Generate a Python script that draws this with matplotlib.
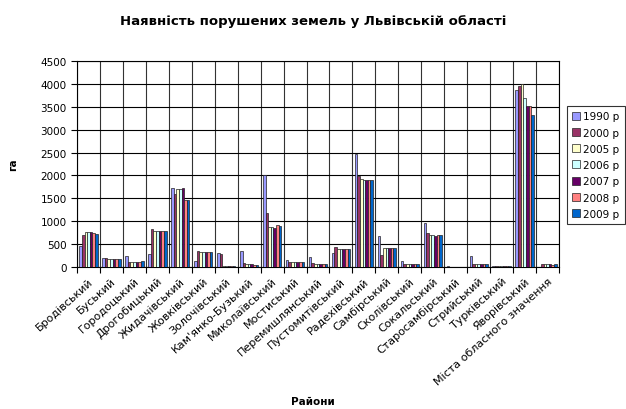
import numpy as np
import matplotlib
matplotlib.use("Agg")
import matplotlib.pyplot as plt
from matplotlib.transforms import ScaledTranslation

plt.rcParams['font.family'] = ['DejaVu Sans']

districts = ["Бродівський", "Буський", "Городоцький", "Дрогобицький", "Жидачівський",
             "Жовківський", "Золочівський", "Кам'янко-Бузький", "Миколаївський", "Мостиський",
             "Перемишлянський", "Пустомитівський", "Радехівський", "Самбірський", "Сколівський",
             "Сокальський", "Старосамбірський", "Стрийський", "Турківський", "Яворівський",
             "Міста обласного значення"]

years = ["1990 р", "2000 р", "2005 р", "2006 р", "2007 р", "2008 р", "2009 р"]
colors = ["#9999FF", "#993366", "#FFFFCC", "#CCFFFF", "#660066", "#FF8080", "#0066CC"]

y1990 = [460, 200, 250, 290, 1730, 130, 310, 350, 2000, 160, 230, 310, 2460, 680, 130, 960, 20, 240, 25, 3870, 0]
y2000 = [700, 195, 110, 830, 1600, 360, 290, 90, 1180, 120, 90, 450, 1980, 260, 60, 740, 5, 65, 20, 3950, 60]
y2005 = [770, 180, 110, 790, 1700, 330, 15, 60, 880, 120, 60, 400, 1930, 420, 65, 700, 5, 65, 25, 4000, 60]
y2006 = [770, 180, 110, 790, 1700, 330, 15, 60, 880, 120, 70, 400, 1910, 420, 65, 700, 5, 65, 25, 3680, 60]
y2007 = [770, 180, 110, 790, 1730, 330, 15, 60, 860, 120, 70, 400, 1910, 420, 65, 680, 5, 65, 25, 3520, 60]
y2008 = [750, 180, 110, 790, 1460, 330, 15, 45, 920, 120, 70, 400, 1910, 420, 65, 700, 5, 65, 25, 3520, 50]
y2009 = [730, 180, 130, 790, 1460, 330, 15, 45, 900, 120, 70, 400, 1910, 420, 65, 700, 5, 65, 25, 3330, 60]
series = [y1990, y2000, y2005, y2006, y2007, y2008, y2009]

fig = plt.figure(figsize=(6.26, 4.10), dpi=100)
ax = fig.add_axes([0.123, 0.346, 0.770, 0.503])

x = np.arange(len(districts))
w = 0.8 / len(series)
for i, (vals, c, lab) in enumerate(zip(series, colors, years)):
    ax.bar(x - 0.4 + w * (i + 0.5), vals, width=w, color=c, edgecolor="#222222",
           linewidth=0.5, label=lab, zorder=3)

ax.set_xlim(-0.5, len(districts) - 0.5)
ax.set_ylim(0, 4500)
ax.set_yticks(np.arange(0, 4501, 500))
ax.set_xticks(x)
ax.set_xticklabels(districts, rotation=42, ha='right', rotation_mode='anchor', fontsize=8)
shift = ScaledTranslation(-3 / 72, 0, fig.dpi_scale_trans)
for t in ax.get_xticklabels():
    t.set_transform(t.get_transform() + shift)
ax.set_xticks(np.arange(-0.5, len(districts)), minor=True)
ax.tick_params(axis='x', which='major', length=0, pad=6)
ax.tick_params(axis='x', which='minor', length=4, direction='out', width=0.8)
ax.tick_params(axis='y', labelsize=7.5, length=4, width=0.8)
ax.grid(axis='y', which='major', color='black', linewidth=0.8, zorder=0)
ax.grid(axis='x', which='minor', color='#333333', linewidth=0.8, zorder=0)
ax.set_axisbelow(True)
for s in ax.spines.values():
    s.set_linewidth(0.8)

ax.set_ylabel("га", fontsize=7.5, fontweight='bold', labelpad=16)
fig.text(0.5, 0.012, "Райони", ha='center', fontsize=7.5, fontweight='bold')
fig.text(0.5, 0.94, "Наявність порушених земель у Львівській області", ha='center',
         fontsize=9.5, fontweight='bold')

leg = fig.legend(loc='center left', bbox_to_anchor=(0.905, 0.595), fontsize=7.5,
                 frameon=True, fancybox=False, handlelength=0.8, handleheight=0.8,
                 handletextpad=0.3, borderpad=0.5, labelspacing=0.6, borderaxespad=0)
leg.get_frame().set_edgecolor('black')
leg.get_frame().set_linewidth(0.8)

fig.savefig("out.png", dpi=100)
